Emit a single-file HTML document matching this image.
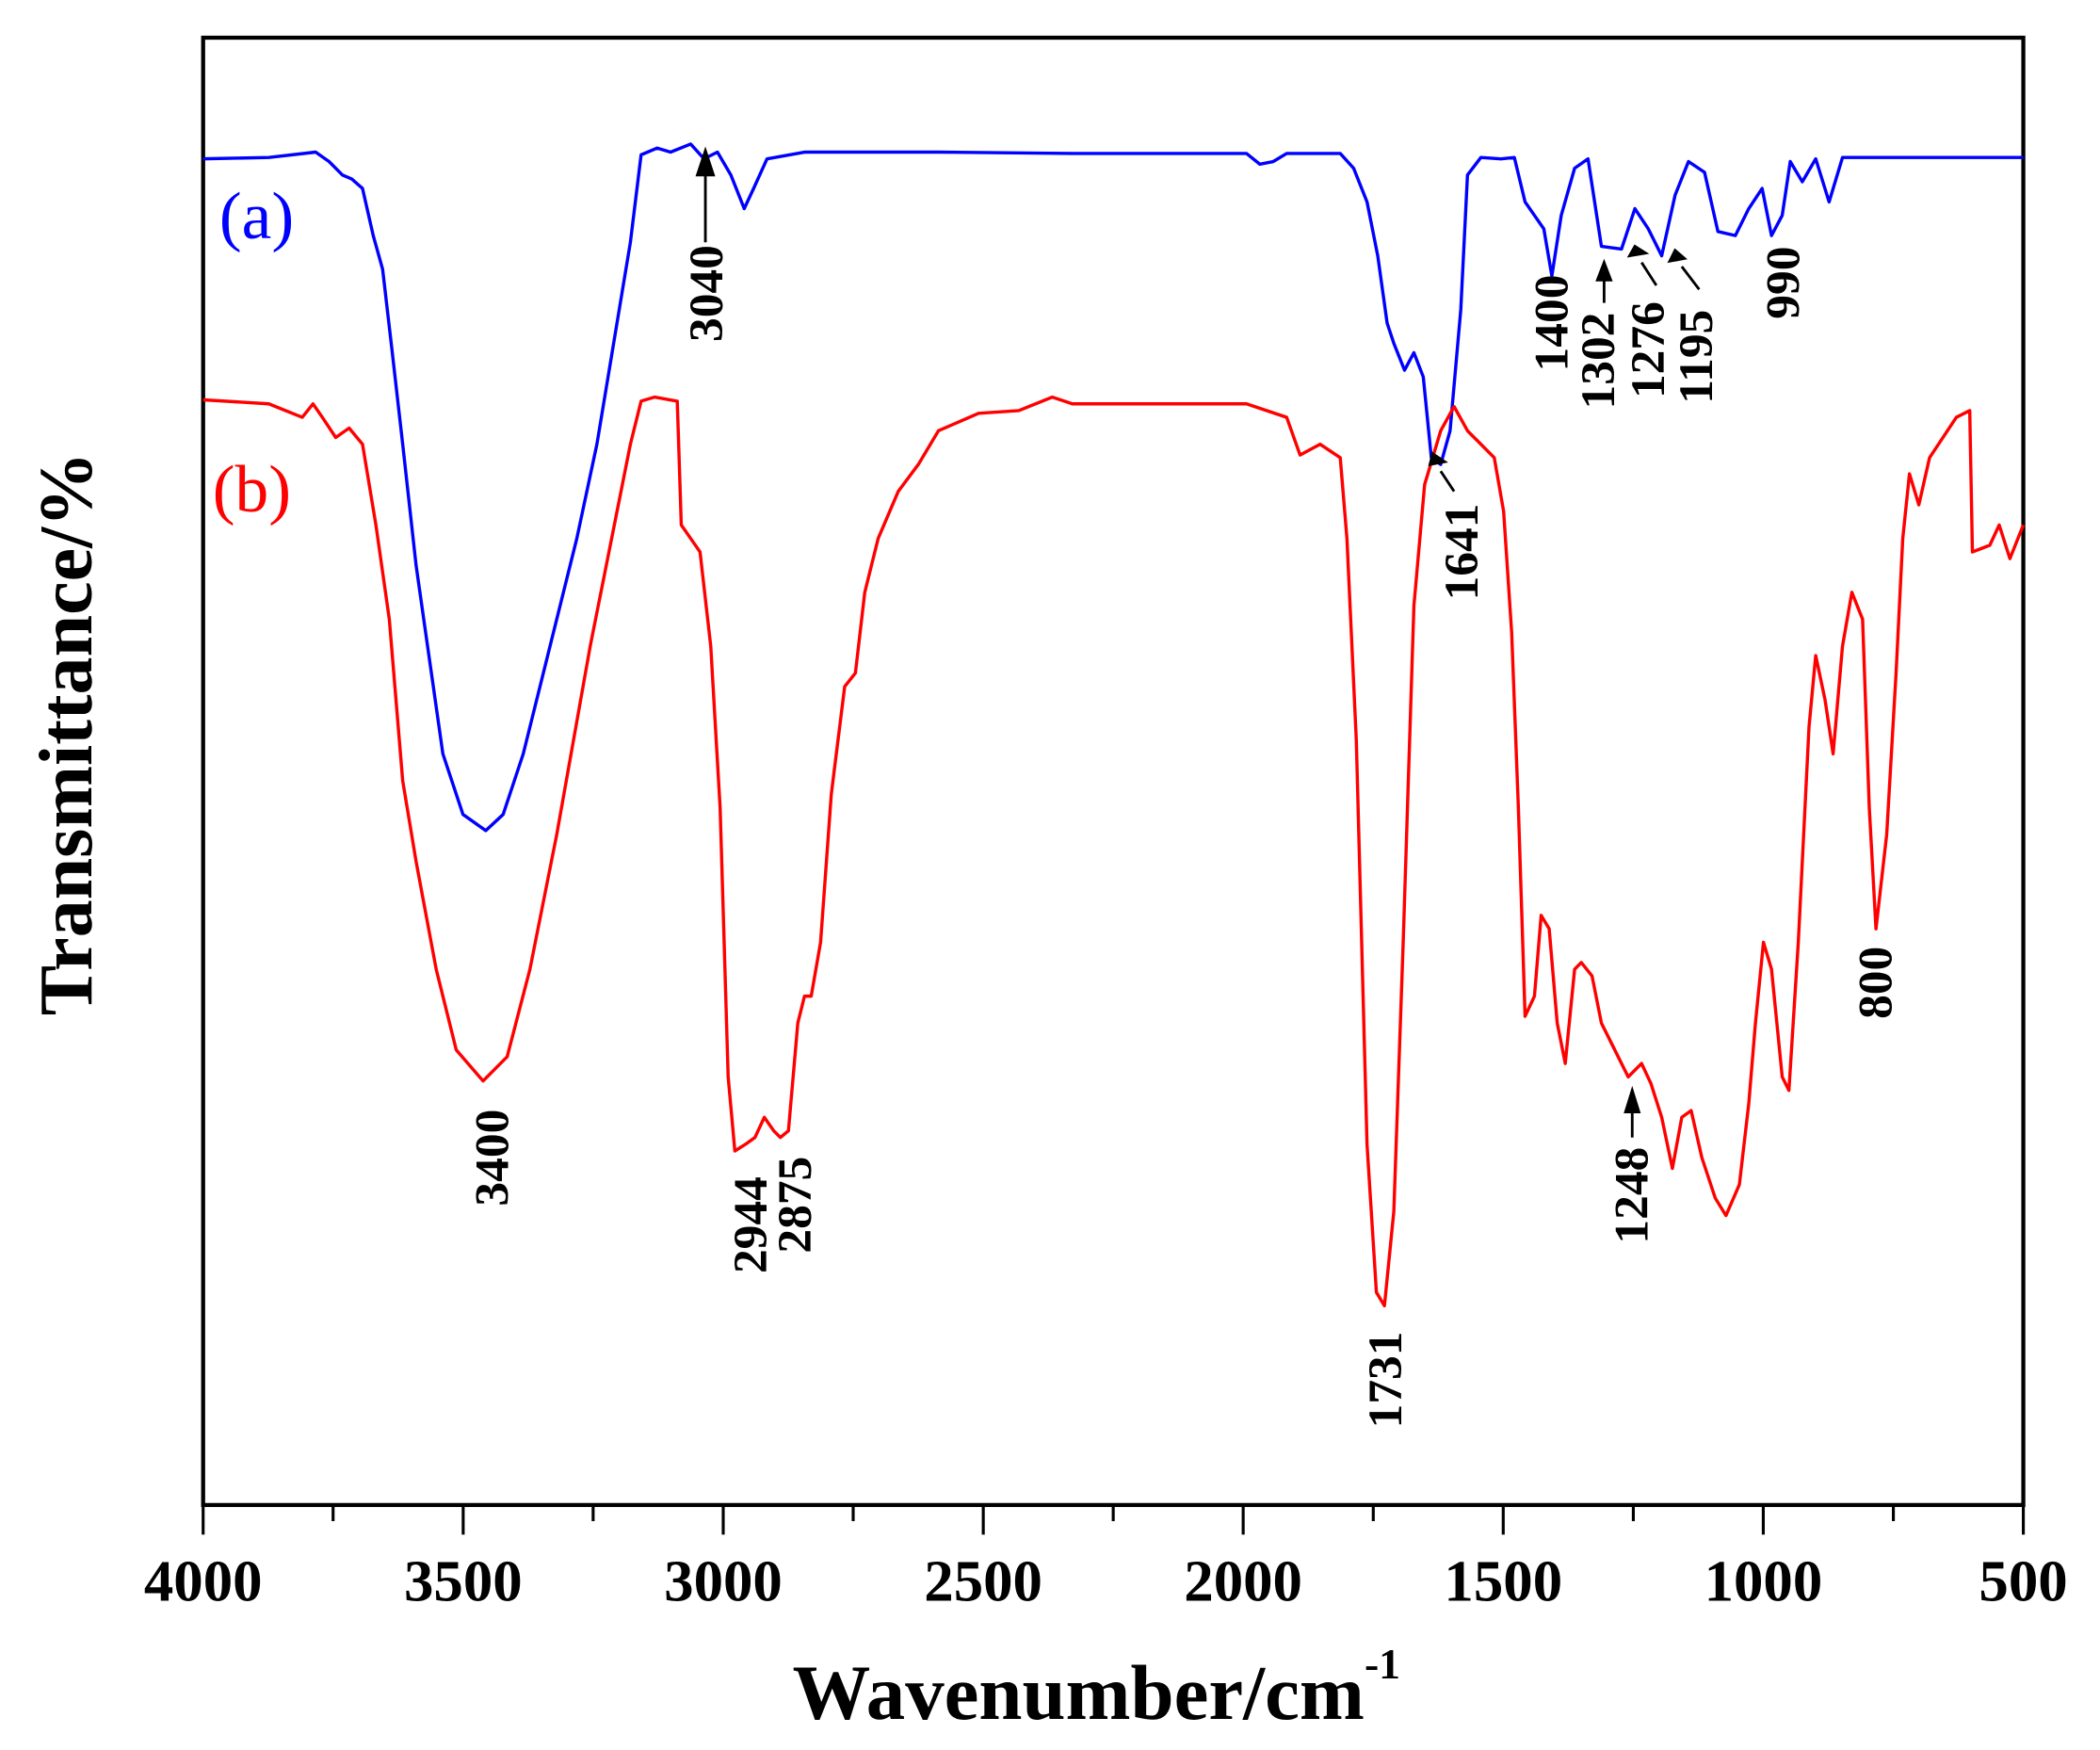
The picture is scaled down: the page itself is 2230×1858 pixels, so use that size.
<!DOCTYPE html>
<html><head><meta charset="utf-8"><style>html,body{margin:0;padding:0;background:#fff}svg{display:block}</style></head>
<body>
<svg width="2230" height="1858" viewBox="0 0 1561 1300" preserveAspectRatio="none" xmlns="http://www.w3.org/2000/svg" font-family="'Liberation Serif',serif">
<rect width="1561" height="1300" fill="#fff"/>
<rect x="151" y="28" width="1353" height="1090" fill="none" stroke="#000" stroke-width="3"/>
<g stroke="#000" stroke-width="2.2">
<line x1="151" y1="1118" x2="151" y2="1140"/><line x1="247.6" y1="1118" x2="247.6" y2="1130"/>
<line x1="344.3" y1="1118" x2="344.3" y2="1140"/><line x1="440.9" y1="1118" x2="440.9" y2="1130"/>
<line x1="537.6" y1="1118" x2="537.6" y2="1140"/><line x1="634.2" y1="1118" x2="634.2" y2="1130"/>
<line x1="730.9" y1="1118" x2="730.9" y2="1140"/><line x1="827.5" y1="1118" x2="827.5" y2="1130"/>
<line x1="924.1" y1="1118" x2="924.1" y2="1140"/><line x1="1020.8" y1="1118" x2="1020.8" y2="1130"/>
<line x1="1117.4" y1="1118" x2="1117.4" y2="1140"/><line x1="1214.1" y1="1118" x2="1214.1" y2="1130"/>
<line x1="1310.7" y1="1118" x2="1310.7" y2="1140"/><line x1="1407.4" y1="1118" x2="1407.4" y2="1130"/>
<line x1="1504" y1="1118" x2="1504" y2="1140"/>
</g>
<g font-size="44" font-weight="bold" text-anchor="middle">
<text x="151" y="1189">4000</text><text x="344.3" y="1189">3500</text><text x="537.6" y="1189">3000</text>
<text x="730.9" y="1189">2500</text><text x="924.1" y="1189">2000</text><text x="1117.4" y="1189">1500</text>
<text x="1310.7" y="1189">1000</text><text x="1504" y="1189">500</text>
</g>
<text x="815" y="1277" font-size="58" font-weight="bold" text-anchor="middle">Wavenumber/cm<tspan font-size="32" dy="-30">-1</tspan></text>
<text transform="translate(68,545) rotate(-90)" font-size="56" font-weight="bold" text-anchor="middle">Transmittance/%</text>
<text x="163" y="177" font-size="50" fill="#0000ff">(a)</text>
<text x="158" y="380" font-size="50" fill="#ff0000">(b)</text>
<g transform="translate(151,0) scale(0.99558,1) translate(-151,0)">
<polyline fill="none" stroke="#0000ff" stroke-width="2.4" stroke-linejoin="round" points="151,118 200,117 235,113 245,120 255,130 262,133 270,140 278,175 285,200 292,260 300,330 310,420 320,490 330,560 345,605 362,617 375,605 390,560 410,480 430,400 445,330 460,240 470,180 478,115 490,110 500,113 515,107 525,118 535,113 545,130 555,155 562,140 572,118 600,113 700,113 800,114 900,114 930,114 940,122 950,120 960,114 1000,114 1010,125 1020,150 1028,190 1035,240 1040,255 1048,275 1055,262 1062,280 1068,340 1075,345 1082,320 1090,230 1095,130 1105,117 1120,118 1130,117 1138,150 1145,160 1152,170 1158,205 1165,160 1175,125 1185,118 1195,183 1210,185 1220,155 1230,170 1240,190 1250,145 1260,120 1272,128 1282,172 1295,175 1305,155 1315,140 1322,175 1330,160 1336,120 1345,135 1355,118 1365,150 1375,117 1510,117"/>
<polyline fill="none" stroke="#ff0000" stroke-width="2.4" stroke-linejoin="round" points="151,297 200,300 225,310 233,300 240,310 250,325 260,318 270,330 280,390 290,460 300,580 310,640 325,720 340,780 360,803 378,785 395,720 415,620 440,480 460,380 470,330 478,298 488,295 505,298 508,390 515,400 522,410 530,480 537,600 543,800 548,855 556,850 563,845 570,830 577,840 582,845 588,840 595,760 600,740 605,740 612,700 620,590 630,510 638,500 645,440 655,400 670,365 685,345 700,320 730,307 760,305 785,295 800,300 900,300 930,300 960,310 970,338 985,330 1000,340 1005,400 1012,550 1020,850 1027,960 1033,970 1040,900 1047,700 1055,450 1063,360 1075,320 1085,302 1095,320 1105,330 1115,340 1122,380 1128,470 1133,600 1138,755 1145,740 1150,680 1156,690 1162,760 1168,790 1175,720 1180,715 1188,725 1195,760 1205,780 1215,800 1225,790 1232,805 1240,830 1248,868 1255,830 1262,825 1270,860 1280,890 1288,903 1298,880 1305,820 1310,760 1316,700 1322,720 1330,800 1335,810 1342,700 1350,540 1355,487 1362,520 1368,560 1375,480 1382,440 1390,460 1395,600 1400,690 1408,620 1415,500 1420,400 1425,352 1432,375 1440,340 1460,310 1470,305 1472,410 1485,405 1492,390 1500,415 1510,390"/>
<g stroke="#000" stroke-width="2" fill="#000">
<line x1="526" y1="180" x2="526" y2="128"/><polygon points="520,130 532,130 526,112"/>
<line x1="1197" y1="225" x2="1197" y2="208"/><polygon points="1192,208 1202,208 1197,195"/>
<line x1="1236" y1="212" x2="1225" y2="195"/><polygon points="1216,190 1228,188 1220,183"/>
<line x1="1268" y1="215" x2="1255" y2="198"/><polygon points="1246,194 1257,192 1250,186"/>
<line x1="1085" y1="365" x2="1075" y2="350"/><polygon points="1067,345 1078,343 1069,337"/>
<line x1="1218" y1="845" x2="1218" y2="825"/><polygon points="1213,826 1223,826 1218,810"/>
</g>
<g font-size="36" font-weight="bold" text-anchor="middle" dominant-baseline="central">
<text transform="translate(527,218) rotate(-90)">3040</text>
<text transform="translate(1158,240) rotate(-90)">1400</text>
<text transform="translate(1193,268) rotate(-90)">1302</text>
<text transform="translate(1230,260) rotate(-90)">1276</text>
<text transform="translate(1266,265) rotate(-90)">1195</text>
<text transform="translate(1331,210) rotate(-90)">990</text>
<text transform="translate(1091,410) rotate(-90)">1641</text>
<text transform="translate(367,860) rotate(-90)">3400</text>
<text transform="translate(560,910) rotate(-90)">2944</text>
<text transform="translate(593,895) rotate(-90)">2875</text>
<text transform="translate(1034,1025) rotate(-90)">1731</text>
<text transform="translate(1218,888) rotate(-90)">1248</text>
<text transform="translate(1400,730) rotate(-90)">800</text>
</g>
</g>
</svg>
</body></html>
